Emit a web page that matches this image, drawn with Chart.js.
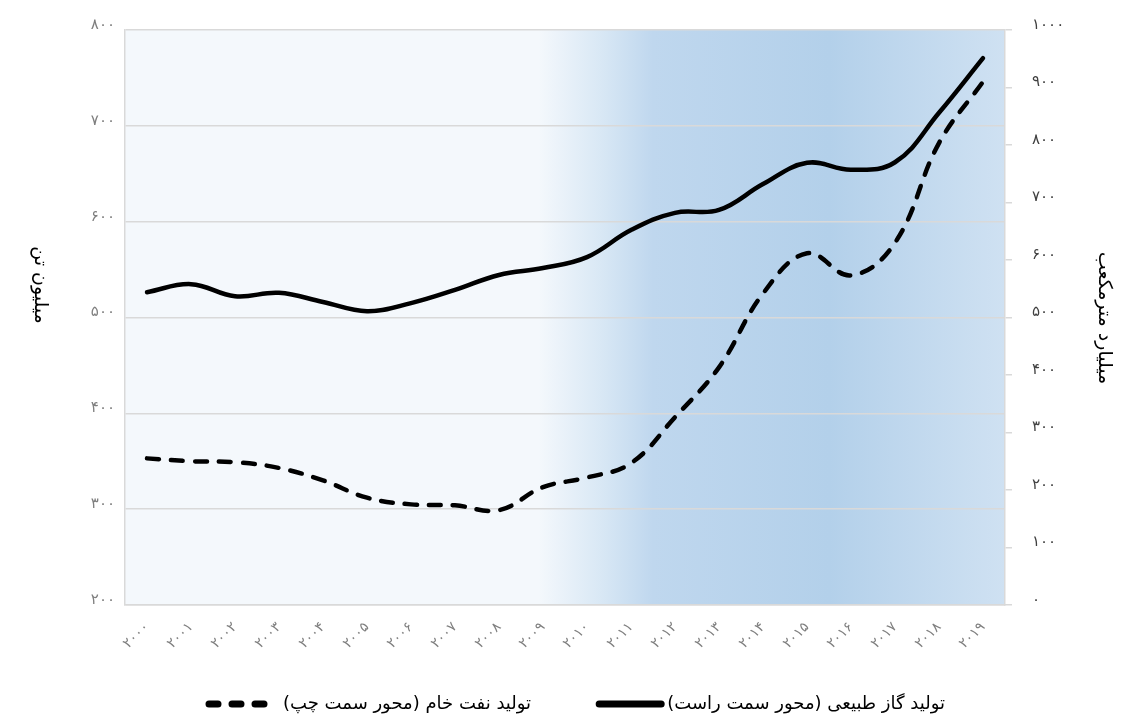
<!DOCTYPE html>
<html>
<head>
<meta charset="utf-8">
<script src="https://cdn.jsdelivr.net/npm/chart.js@4"></script>
<style>
  html, body { margin: 0; padding: 0; background: #fff; }
  #wrap { width: 1121px; height: 717px; }
</style>
</head>
<body>
<div id="wrap"><canvas id="prodChart" width="1121" height="717"></canvas></div>
<script>
// Data
const years = ["۲۰۰۰", "۲۰۰۱", "۲۰۰۲", "۲۰۰۳", "۲۰۰۴", "۲۰۰۵", "۲۰۰۶", "۲۰۰۷", "۲۰۰۸", "۲۰۰۹",
               "۲۰۱۰", "۲۰۱۱", "۲۰۱۲", "۲۰۱۳", "۲۰۱۴", "۲۰۱۵", "۲۰۱۶", "۲۰۱۷", "۲۰۱۸", "۲۰۱۹"];
const oilProd = [353, 350, 349, 343, 330, 312, 305, 304, 299, 323, 333, 348, 396, 448, 525, 567, 544, 578, 682, 746];
const gasProd = [544, 558, 537, 543, 527, 511, 525, 548, 574, 586, 605, 652, 682, 687, 732, 769, 757, 770, 856, 951];
const oilLabel = "تولید نفت خام (محور سمت چپ)";
const gasLabel = "تولید گاز طبیعی (محور سمت راست)";
const leftTitle = "میلیون تن";
const rightTitle = "میلیارد مترمکعب";

const faFont = "'DejaVu Sans', 'Noto Sans', sans-serif";
const faDigits = ["۰", "۱", "۲", "۳", "۴", "۵", "۶", "۷", "۸", "۹"];
function toFa(n) {
  return String(n).replace(/[0-9]/g, d => faDigits[+d]);
}

// background gradient in plot area
const bgPlugin = {
  id: "bgPlugin",
  beforeDraw(chart) {
    const { ctx, chartArea: a } = chart;
    const g = ctx.createLinearGradient(a.left, 0, a.right, 0);
    g.addColorStop(0, "#f4f8fc");
    g.addColorStop(0.47, "#f4f8fc");
    g.addColorStop(0.54, "#d9e8f5");
    g.addColorStop(0.6, "#bfd7ee");
    g.addColorStop(0.8, "#b3d0ea");
    g.addColorStop(1, "#cfe1f2");
    ctx.save();
    ctx.fillStyle = g;
    ctx.fillRect(a.left, a.top, a.right - a.left, a.bottom - a.top);
    ctx.restore();
  },
};

// axis titles (both turned clockwise) and legend
const textPlugin = {
  id: "textPlugin",
  afterDraw(chart) {
    const { ctx } = chart;
    ctx.save();
    ctx.fillStyle = "#000";
    ctx.font = "19px " + faFont;
    ctx.textAlign = "center";
    ctx.textBaseline = "middle";
    [[40, 285, leftTitle], [1104, 318, rightTitle]].forEach(([x, y, t]) => {
      ctx.save();
      ctx.translate(x, y);
      ctx.rotate(Math.PI / 2);
      ctx.fillText(t, 0, 0);
      ctx.restore();
    });

    // legend
    const ly = 704;
    ctx.font = "18px " + faFont;
    ctx.textBaseline = "middle";
    ctx.direction = "rtl";
    ctx.lineCap = "round";
    ctx.strokeStyle = "#000";
    ctx.lineWidth = 7;

    // oil: dashed marker then text
    ctx.setLineDash([9, 14]);
    ctx.beginPath();
    ctx.moveTo(209, ly);
    ctx.lineTo(266, ly);
    ctx.stroke();
    const oilW = ctx.measureText(oilLabel).width;
    ctx.textAlign = "right";
    ctx.fillText(oilLabel, 283 + oilW, ly);

    // gas: solid marker then text
    ctx.setLineDash([]);
    const gasW = ctx.measureText(gasLabel).width;
    const gasStart = 945 - gasW;
    ctx.beginPath();
    ctx.moveTo(gasStart - 68, ly);
    ctx.lineTo(gasStart - 6, ly);
    ctx.stroke();
    ctx.fillText(gasLabel, 945, ly);
    ctx.restore();
  },
};

const ctx = document.getElementById("prodChart").getContext("2d");
new Chart(ctx, {
  type: "line",
  data: {
    labels: years,
    datasets: [
      {
        label: oilLabel,
        data: oilProd,
        yAxisID: "y",
        borderColor: "#000",
        borderWidth: 4.5,
        borderDash: [12, 12],
        borderCapStyle: "round",
        pointRadius: 0,
        tension: 0.4,
        fill: false,
      },
      {
        label: gasLabel,
        data: gasProd,
        yAxisID: "y2",
        borderColor: "#000",
        borderWidth: 4.5,
        borderCapStyle: "round",
        pointRadius: 0,
        tension: 0.4,
        fill: false,
      },
    ],
  },
  options: {
    responsive: false,
    animation: false,
    devicePixelRatio: 1,
    layout: { padding: { top: 30, left: 0, right: 0, bottom: 0 } },
    plugins: {
      legend: { display: false },
      tooltip: { enabled: false },
    },
    scales: {
      x: {
        offset: true,
        afterFit: (a) => { a.height = 112; },
        grid: { display: false, offset: true },
        border: { color: "#d9d9d9", width: 1.5 },
        ticks: {
          color: "#7f7f7f",
          font: { family: faFont, size: 14 },
          minRotation: 45,
          maxRotation: 45,
          padding: 6,
        },
      },
      y: {
        position: "left",
        min: 200,
        max: 800,
        afterFit: (a) => { a.width = 125; },
        grid: { color: "#d9d9d9", lineWidth: 1.5, drawTicks: false },
        border: { color: "#d9d9d9", width: 1.5 },
        ticks: {
          stepSize: 100,
          color: "#7f7f7f",
          font: { family: faFont, size: 15 },
          padding: 10,
          labelOffset: -5,
          callback: (v) => toFa(v),
        },
      },
      y2: {
        position: "right",
        min: 0,
        max: 1000,
        afterFit: (a) => { a.width = 116; },
        grid: { drawOnChartArea: false, color: "#d9d9d9", tickLength: 7, lineWidth: 1.5 },
        border: { color: "#d9d9d9", width: 1.5 },
        ticks: {
          stepSize: 100,
          color: "#404040",
          font: { family: faFont, size: 15 },
          padding: 20,
          labelOffset: -5,
          callback: (v) => toFa(v),
        },
      },
    },
  },
  plugins: [bgPlugin, textPlugin],
});
</script>
</body>
</html>
